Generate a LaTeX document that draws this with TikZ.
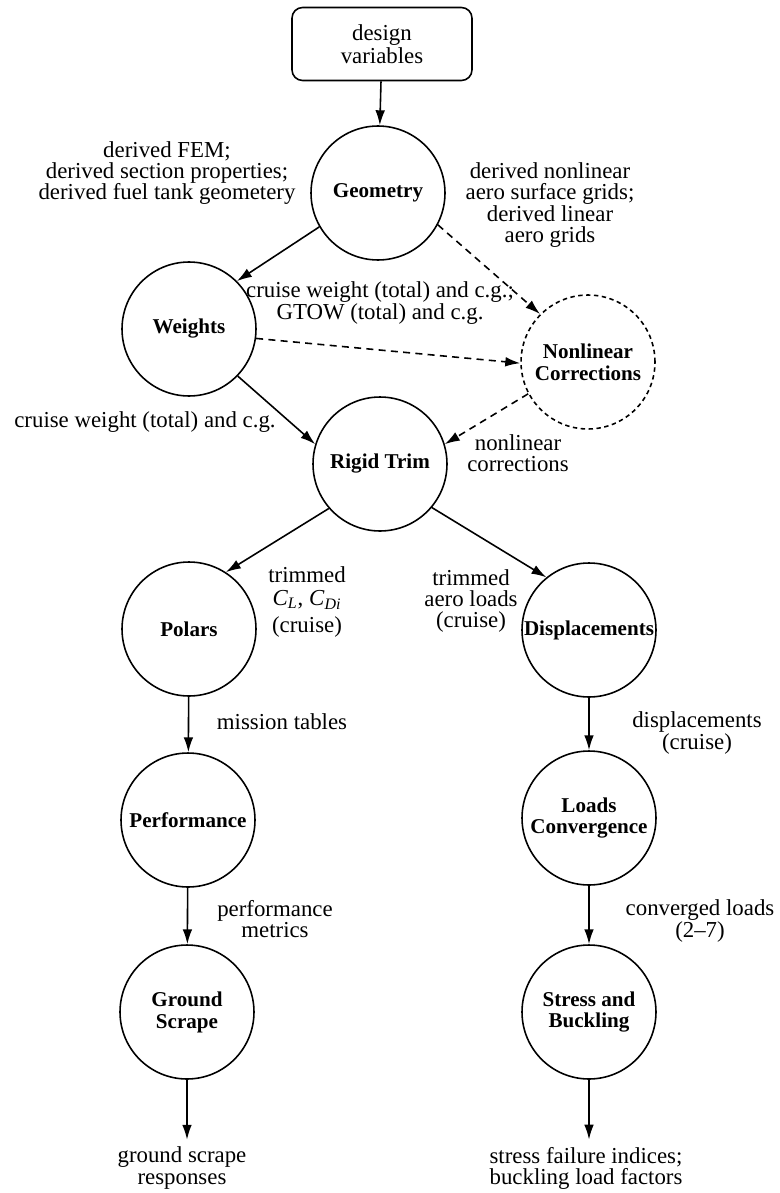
\documentclass[tikz,border=0pt]{standalone}
\usepackage{fontspec}
\setmainfont{Liberation Serif}
\usetikzlibrary{arrows.meta}

\begin{document}
\begin{tikzpicture}[
  x=0.02cm, y=-0.02cm,
  >={Latex[length=8.5pt,width=5.5pt]},
  proc/.style={circle, draw, line width=0.9pt, minimum size=2.68cm,
    inner sep=0pt, align=center,
    font=\fontsize{12pt}{12.5pt}\selectfont\bfseries},
  inbox/.style={draw, rounded corners=6pt, line width=0.9pt,
    minimum width=3.6cm, minimum height=1.46cm, align=center,
    font=\fontsize{13pt}{13pt}\selectfont},
  nlin/.style={dash pattern=on 2.5pt off 2pt},
  arr/.style={->, line width=0.9pt},
  darr/.style={->, line width=0.9pt, dash pattern=on 4pt off 3pt},
  lbl/.style={align=center, inner sep=0pt,
    font=\fontsize{13pt}{12pt}\selectfont},
]
\useasboundingbox (0,0) rectangle (779,1193);

% === top: inputs, geometry, weights ===
\node[inbox] (dv) at (382,44) {design\\variables};
\node[proc] (geo) at (378,193) {Geometry};
\node[proc] (wts) at (189,329) {Weights};
\node[proc, nlin] (nlc) at (588,362) {Nonlinear\\Corrections};
\node[proc] (rt) at (380,464) {Rigid Trim};

\draw[arr] (dv) -- (geo);
\draw[arr] (geo.210) -- (wts.45);
\draw[darr] (geo.332) -- (nlc.135);
\draw[darr] (wts.352) -- (nlc.181);
\draw[arr] (wts.316) -- (rt.163);
\draw[darr] (nlc.208) -- (rt.17);

\node[lbl] at (167,173) {derived FEM;\\derived section properties;\\derived fuel tank geometery};
\node[lbl] at (550,205) {derived nonlinear\\aero surface grids;\\derived linear\\aero grids};
\node[lbl] at (380,303) {cruise weight (total) and c.g.;\\GTOW (total) and c.g.};
\node[lbl] at (145,422) {cruise weight (total) and c.g.};
\node[lbl] at (518,453) {nonlinear\\corrections};

% === left branch ===
\node[proc] (pol) at (189,629) {Polars};
\node[proc] (perf) at (188,820) {Performance};
\node[proc] (gs) at (187,1012) {Ground\\Scrape};
\node[lbl] (gsout) at (182,1168) {ground scrape\\responses};

\draw[arr] (rt.221) -- (pol.57);
\draw[arr] (pol) -- (perf);
\draw[arr] (perf) -- (gs);
\draw[arr, shorten >=4pt] (gs) -- (gs |- gsout.north);

\node[lbl] at (307,602) {trimmed\\[1pt]\textit{C}\textsubscript{\textit{L}}, \textit{C}\textsubscript{\textit{Di}}\\[3pt](cruise)};
\node[lbl] at (282,722) {mission tables};
\node[lbl] at (275,919) {performance\\metrics};

% === right branch ===
\node[proc] (disp) at (589,630) {Displacements};
\node[proc] (lc) at (589,818) {Loads\\Convergence};
\node[proc] (sb) at (589,1012) {Stress and\\Buckling};
\node[lbl] (sbout) at (586,1168) {stress failure indices;\\buckling load factors};

\draw[arr] (rt.320) -- (disp.129);
\draw[arr] (disp) -- (lc);
\draw[arr] (lc) -- (sb);
\draw[arr, shorten >=4pt] (sb) -- (sb |- sbout.north);

\node[lbl] at (471,601) {trimmed\\aero loads\\(cruise)};
\node[lbl] at (697,733) {displacements\\(cruise)};
\node[lbl] at (700,921) {converged loads\\(2--7)};

\end{tikzpicture}
\end{document}
